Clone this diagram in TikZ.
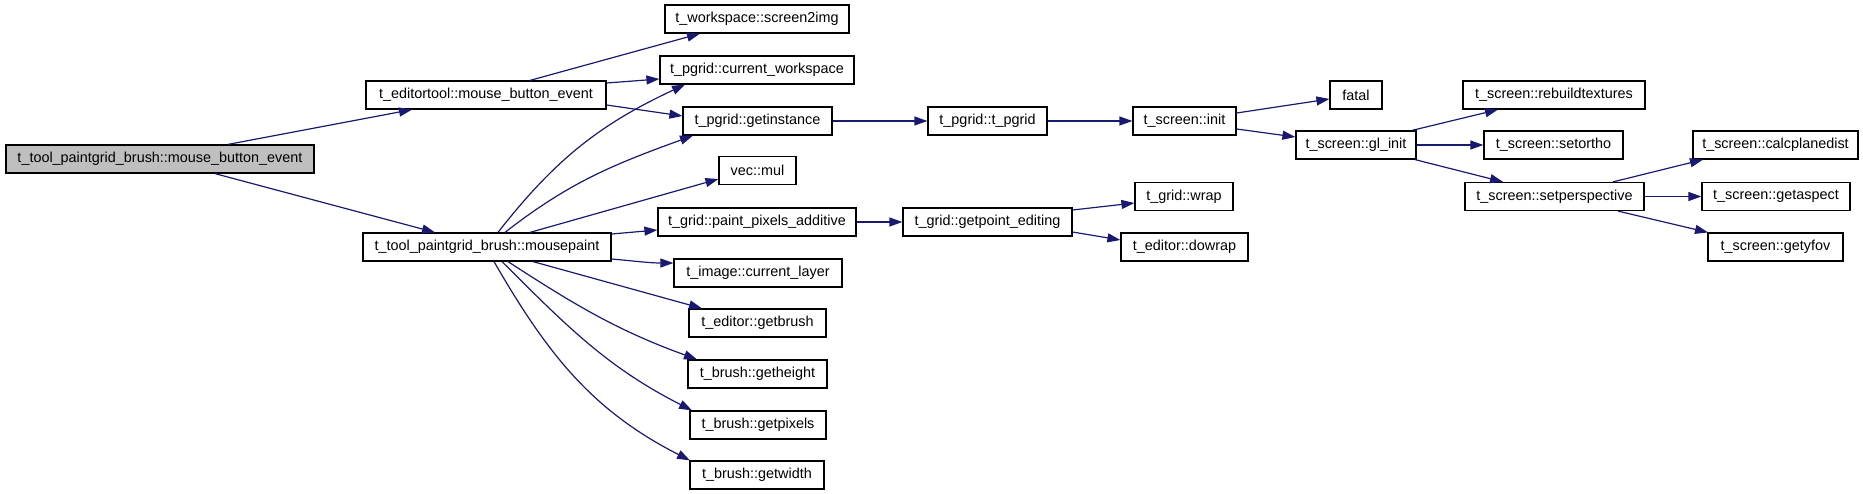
\documentclass[tikz,border=0pt]{standalone}
\usepackage{fontspec}
\setmainfont{Liberation Sans}
\usetikzlibrary{arrows.meta}
\definecolor{edgeblue}{RGB}{25,25,112}
\definecolor{maingray}{RGB}{191,191,191}
\begin{document}
\begin{tikzpicture}[x=1pt,y=-1pt,
  fn/.style={draw=black, line width=1.2pt, minimum height=28pt, inner sep=0pt, fill=white,
    font=\fontsize{14.4}{16}\selectfont},
  edge/.style={draw=edgeblue, line width=1.2pt, -{Triangle[length=13pt,width=9pt]}}]
\useasboundingbox (0,0) rectangle (1863,493);
% nodes
\node[fn, fill=maingray, minimum width=308pt] (main) at (160,159) {t\_tool\_paintgrid\_brush::mouse\_button\_event};
\node[fn, minimum width=240pt] (edt) at (486,95) {t\_editortool::mouse\_button\_event};
\node[fn, minimum width=248pt] (mp) at (487,247) {t\_tool\_paintgrid\_brush::mousepaint};
\node[fn, minimum width=184pt] (s2i) at (757,19) {t\_workspace::screen2img};
\node[fn, minimum width=194pt] (cw) at (757,70) {t\_pgrid::current\_workspace};
\node[fn, minimum width=149pt] (gi) at (757.5,121) {t\_pgrid::getinstance};
\node[fn, minimum width=77pt] (vm) at (757.5,170.5) {vec::mul};
\node[fn, minimum width=198pt] (ppa) at (757,222) {t\_grid::paint\_pixels\_additive};
\node[fn, minimum width=168pt] (cl) at (758,273) {t\_image::current\_layer};
\node[fn, minimum width=137pt] (gb) at (757.5,323) {t\_editor::getbrush};
\node[fn, minimum width=139pt] (gh) at (757.5,374) {t\_brush::getheight};
\node[fn, minimum width=136pt] (gp) at (758,425) {t\_brush::getpixels};
\node[fn, minimum width=134pt] (gw) at (757,475) {t\_brush::getwidth};
\node[fn, minimum width=119pt] (tp) at (987.5,121) {t\_pgrid::t\_pgrid};
\node[fn, minimum width=169pt] (gpe) at (987.5,222) {t\_grid::getpoint\_editing};
\node[fn, minimum width=103pt] (si) at (1184.5,121) {t\_screen::init};
\node[fn, minimum width=98pt] (wrap) at (1184,196.5) {t\_grid::wrap};
\node[fn, minimum width=127pt] (dw) at (1184.5,247) {t\_editor::dowrap};
\node[fn, minimum width=52pt] (fatal) at (1356,95) {fatal};
\node[fn, minimum width=120pt] (gli) at (1356,145) {t\_screen::gl\_init};
\node[fn, minimum width=182pt] (rt) at (1554,95) {t\_screen::rebuildtextures};
\node[fn, minimum width=139pt] (so) at (1553.5,145) {t\_screen::setortho};
\node[fn, minimum width=179pt] (sp) at (1554.5,196.5) {t\_screen::setperspective};
\node[fn, minimum width=165pt] (cpd) at (1775.5,145) {t\_screen::calcplanedist};
\node[fn, minimum width=148pt] (ga) at (1776,196.5) {t\_screen::getaspect};
\node[fn, minimum width=135pt] (gy) at (1775.5,247) {t\_screen::getyfov};
% edges
\draw[edge] ([xshift=68pt]main.north) -- ([xshift=-74pt]edt.south);
\draw[edge] ([xshift=55pt]main.south) -- ([xshift=-52pt]mp.north);
\draw[edge] ([xshift=44pt]edt.north) -- ([xshift=-57pt]s2i.south);
\draw[edge] ([yshift=12pt]edt.east) -- ([yshift=-9pt]cw.west);
\draw[edge] ([yshift=-10pt]edt.east) -- ([yshift=5pt]gi.west);
\draw[edge] ([xshift=11pt]mp.north) to[out=52,in=205] ([xshift=-72pt]cw.south);
\draw[edge] ([xshift=18pt]mp.north) to[out=38,in=200] ([xshift=-64.5pt]gi.south);
\draw[edge] ([xshift=43pt]mp.north) -- ([yshift=-8.5pt]vm.west);
\draw[edge] ([yshift=13pt]mp.east) -- ([yshift=-8pt]ppa.west);
\draw[edge] ([yshift=-12pt]mp.east) to[out=-5,in=180] ([yshift=10pt]cl.west);
\draw[edge] ([xshift=46pt]mp.south) -- ([xshift=-55.5pt]gb.north);
\draw[edge] ([xshift=21pt]mp.south) to[out=-33,in=160] ([xshift=-60.5pt]gh.north);
\draw[edge] ([xshift=15pt]mp.south) to[out=-45,in=153] ([xshift=-66pt]gp.north);
\draw[edge] ([xshift=7pt]mp.south) to[out=-60,in=153] ([xshift=-67pt]gw.north);
\draw[edge] (gi) -- (tp);
\draw[edge] (tp) -- (si);
\draw[edge] ([yshift=8pt]si.east) -- ([yshift=-4pt]fatal.west);
\draw[edge] ([yshift=-8pt]si.east) -- ([yshift=8pt]gli.west);
\draw[edge] (ppa) -- (gpe);
\draw[edge] ([yshift=12pt]gpe.east) -- ([yshift=-6.5pt]wrap.west);
\draw[edge] ([yshift=-10pt]gpe.east) -- ([yshift=7pt]dw.west);
\draw[edge] ([xshift=56pt]gli.north) -- ([xshift=-56pt]rt.south);
\draw[edge] (gli) -- (so);
\draw[edge] ([xshift=59pt]gli.south) -- ([xshift=-51.5pt]sp.north);
\draw[edge] ([xshift=58.5pt]sp.north) -- ([xshift=-72.5pt]cpd.south);
\draw[edge] (sp) -- (ga);
\draw[edge] ([xshift=63.5pt]sp.south) -- ([xshift=-67.5pt]gy.north);
\end{tikzpicture}
\end{document}
